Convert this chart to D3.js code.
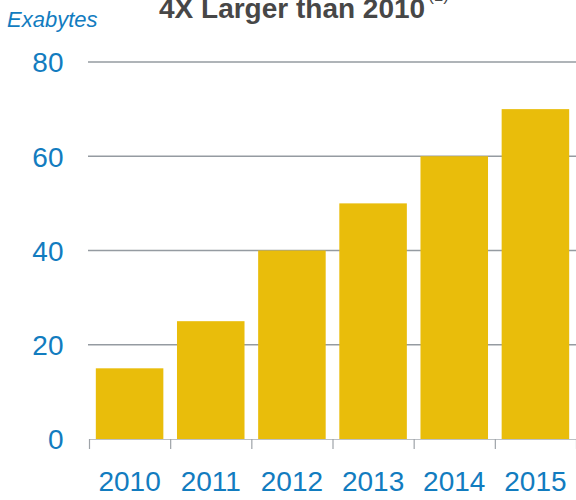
<!DOCTYPE html>
<html>
<head>
<meta charset="utf-8">
<script src="https://cdn.jsdelivr.net/npm/d3@7"></script>
<style>
  html, body { margin: 0; padding: 0; background: #ffffff; }
  svg { display: block; }
  text { font-family: "Liberation Sans", Arial, sans-serif; }
</style>
</head>
<body>
<svg id="chart" width="576" height="500"></svg>
<script>
// Yearly data volume, in exabytes
const years = ["2010", "2011", "2012", "2013", "2014", "2015"];
const exabytes = [15, 25, 40, 50, 60, 70];
const yTicks = [0, 20, 40, 60, 80];

const W = 576, H = 500;
const plot = { left: 89, right: 576, top: 62, bottom: 439 };
const blue = "#127cbf";
const gold = "#e9bd0b";

const svg = d3.select("#chart");

const x = d3.scaleBand()
  .domain(years)
  .range([plot.left, plot.right])
  .paddingInner(0.168)
  .paddingOuter(0.084);

const y = d3.scaleLinear()
  .domain([0, 80])
  .range([plot.bottom, plot.top]);

// Horizontal gridlines
svg.append("g")
  .selectAll("line")
  .data(yTicks.filter(d => d > 0))
  .join("line")
  .attr("x1", plot.left - 1)
  .attr("x2", W)
  .attr("y1", d => y(d))
  .attr("y2", d => y(d))
  .attr("stroke", "#959ba1")
  .attr("stroke-width", 1.5);

// Bars
svg.append("g")
  .selectAll("rect")
  .data(years.map((yr, i) => ({ yr, v: exabytes[i] })))
  .join("rect")
  .attr("x", d => x(d.yr))
  .attr("width", x.bandwidth())
  .attr("y", d => y(d.v))
  .attr("height", d => y(0) - y(d.v))
  .attr("fill", gold);

// Baseline with tick marks on the band boundaries
const edge = d3.scaleLinear().domain([0, years.length]).range([plot.left, plot.right]);
const bottomAxis = svg.append("g")
  .attr("transform", `translate(0,${plot.bottom})`)
  .call(d3.axisBottom(edge).tickValues(d3.range(0, years.length + 1)).tickSizeInner(10).tickSizeOuter(0).tickFormat(""));
bottomAxis.select(".domain").attr("stroke", "#bcc0c4").attr("stroke-width", 1.2);
bottomAxis.selectAll(".tick line").attr("stroke", "#9ea3a8").attr("stroke-width", 1.2);

// Year labels
const xLabels = svg.append("g")
  .attr("transform", `translate(0,${plot.bottom})`)
  .call(d3.axisBottom(x).tickSize(0).tickPadding(0));
xLabels.select(".domain").remove();
xLabels.selectAll(".tick text")
  .attr("y", 52)
  .attr("dy", 0)
  .attr("fill", blue)
  .style("font-size", "28px")
  .style("font-family", "'Liberation Sans', Arial, sans-serif");

// Value labels on the left
const yLabels = svg.append("g")
  .attr("transform", "translate(63.5,0)")
  .call(d3.axisLeft(y).tickValues(yTicks).tickSize(0).tickPadding(0));
yLabels.select(".domain").remove();
yLabels.selectAll(".tick text")
  .attr("dy", "0.35em")
  .attr("fill", blue)
  .style("font-size", "28px")
  .style("font-family", "'Liberation Sans', Arial, sans-serif");

// Unit label
svg.append("text")
  .attr("x", 7)
  .attr("y", 27)
  .attr("fill", blue)
  .style("font-size", "22px")
  .style("font-style", "italic")
  .text("Exabytes");

// Title, partially above the top edge
const title = svg.append("text")
  .attr("x", 159)
  .attr("y", 17.5)
  .attr("fill", "#474747")
  .style("font-size", "28px")
  .style("font-weight", "bold")
  .text("4X Larger than 2010");
title.append("tspan")
  .attr("dx", 3)
  .attr("dy", -17)
  .style("font-size", "17px")
  .style("font-weight", "normal")
  .text("(1)");
</script>
</body>
</html>
